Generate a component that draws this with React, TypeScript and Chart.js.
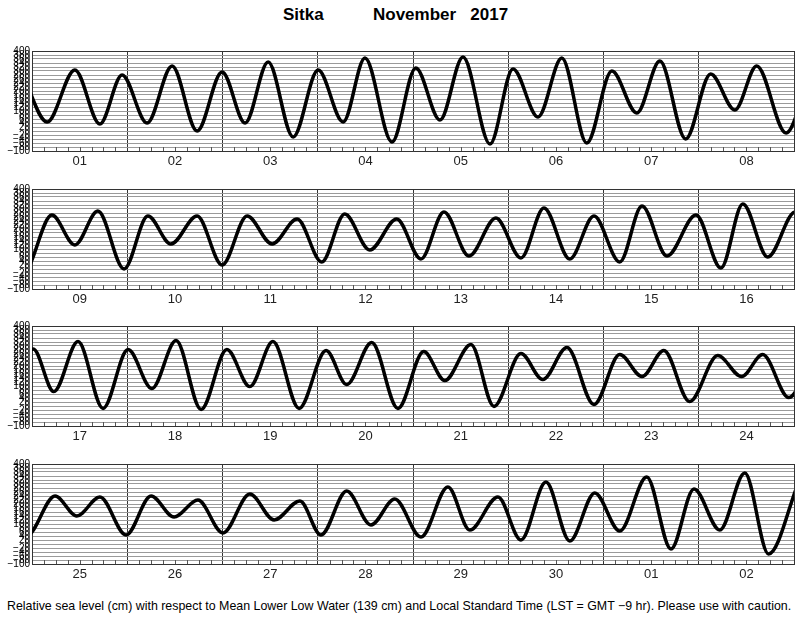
import React, { useEffect, useRef } from 'react';
import { Chart, registerables } from 'chart.js';

Chart.register(...registerables);

// High / low water times (hours after 1 Nov 00:00 LST) and heights (cm)
const tideHours = [
  -2.5, 3.8, 10.8, 17.1, 22.7, 29.0, 35.3, 41.6, 47.9, 53.7, 59.5, 65.8, 72.1, 78.4, 83.9, 90.7,
  96.7, 102.8, 108.6, 115.4, 121.2, 127.5, 133.5, 139.8, 146.1, 152.4, 158.2, 164.7, 171.0, 177.1,
  182.6, 190.0,
  197.0, 202.8, 208.6, 215.2, 221.2, 227.0, 233.6, 239.9, 246.2, 252.5, 258.8, 265.0, 270.8, 277.1,
  283.9, 290.0, 295.8, 302.1, 308.9, 315.2, 321.0, 327.5, 333.6, 340.1, 345.7, 352.0, 359.3, 365.6,
  371.1, 377.4,
  384.3, 389.5, 395.6, 401.9, 408.2, 414.2, 420.3, 426.6, 433.1, 438.9, 444.7, 451.3, 458.1, 463.3,
  469.6, 476.2, 482.7, 488.0, 494.6, 500.4, 507.2, 512.7, 518.8, 525.6, 532.1, 537.7, 543.2, 549.7,
  556.8, 562.8, 568.1, 574.7,
  581.8, 587.3, 593.1, 599.7, 606.0, 611.8, 617.8, 624.1, 630.9, 637.0, 643.5, 648.8, 655.3, 661.4,
  667.4, 674.0, 680.8, 686.3, 693.4, 699.2, 705.5, 711.5, 717.8, 724.1, 730.9, 737.0, 742.8, 749.3,
  755.6, 761.6, 769.0,
];
const tideHeights = [
  290, 45, 305, 35, 280, 40, 325, 0, 295, 40, 345, -30, 305, 45, 365, -55,
  315, 55, 370, -65, 310, 70, 365, -60, 300, 90, 350, -40, 285, 105,
  325, -10,
  270, 120, 290, 0, 265, 125, 265, 20, 265, 125, 250, 35, 275, 95,
  250, 50, 285, 65, 255, 55, 305, 50, 265, 35, 315, 65, 270, 5,
  325, 60,
  285, 72, 322, -12, 282, 87, 327, -17, 282, 97, 322, -12, 277, 107,
  317, -12, 272, 127, 307, -2, 262, 132, 292, 7, 257, 147, 277, 22,
  252, 147, 257, 42,
  240, 140, 235, 45, 240, 135, 220, 55, 250, 120, 215, 45, 265, 95,
  225, 35, 285, 70, 235, 20, 310, 15, 255, 65, 335, -25, 275, 70,
  355, -50, 300,
];
const dayLabels = [
  '01', '02', '03', '04', '05', '06', '07', '08',
  '09', '10', '11', '12', '13', '14', '15', '16',
  '17', '18', '19', '20', '21', '22', '23', '24',
  '25', '26', '27', '28', '29', '30', '01', '02',
];
const panelTops = [51, 189, 326, 464];

const Y_MIN = -100;
const Y_MAX = 400;
const Y_STEP = 20;
const DAYS_PER_PANEL = 8;
const FONT = '"Liberation Sans", Arial, Helvetica, sans-serif';

function Panel({ index, top }: { index: number; top: number }) {
  const ref = useRef<HTMLCanvasElement | null>(null);
  useEffect(() => {
    if (!ref.current) return;
    const start = index * DAYS_PER_PANEL * 24;
    const span = DAYS_PER_PANEL * 24;
    const points = tideHours.map((h, i) => ({ x: h, y: tideHeights[i] }));
    const innerTicks = {
      id: 'innerTicks',
      beforeDatasetsDraw(chart: any) {
        const xs = chart.scales.x;
        const area = chart.chartArea;
        const ctx = chart.ctx;
        ctx.save();
        ctx.strokeStyle = '#555';
        ctx.lineWidth = 1;
        ctx.beginPath();
        for (let h = 3; h < span; h += 3) {
          if (h % 24 === 0) continue;
          const px = Math.round(xs.getPixelForValue(start + h)) + 0.5;
          ctx.moveTo(px, area.bottom);
          ctx.lineTo(px, area.bottom - 4);
        }
        ctx.stroke();
        ctx.restore();
      },
    };
    const chart = new Chart(ref.current, {
      type: 'line',
      data: {
        datasets: [
          {
            data: points,
            borderColor: '#000',
            borderWidth: 3.5,
            pointRadius: 0,
            cubicInterpolationMode: 'monotone',
            fill: false,
            clip: 0,
          } as any,
        ],
      },
      options: {
        animation: false,
        responsive: false,
        devicePixelRatio: 1,
        layout: { padding: { top: 8, right: 6, left: 0, bottom: 0 } },
        plugins: { legend: { display: false }, tooltip: { enabled: false } },
        scales: {
          x: {
            type: 'linear',
            min: start,
            max: start + span,
            afterBuildTicks: (s: any) => {
              const t: any[] = [];
              for (let h = 0; h <= span; h += 3) t.push({ value: start + h });
              s.ticks = t;
            },
            afterFit: (s: any) => {
              s.height = 22;
            },
            grid: {
              color: (c: any) =>
                c.tick && (c.tick.value - start) % 24 === 0 ? '#333' : 'rgba(0,0,0,0)',
              lineWidth: 1,
              drawTicks: false,
            },
            border: { display: true, color: '#333' },
            ticks: {
              autoSkip: false,
              maxRotation: 0,
              padding: 3,
              color: '#222',
              font: { size: 13, family: FONT },
              callback: (v: any) => {
                const h = Number(v) - start;
                if (h % 24 === 12) return dayLabels[index * DAYS_PER_PANEL + Math.floor(h / 24)];
                return '';
              },
            },
          },
          y: {
            min: Y_MIN,
            max: Y_MAX,
            afterFit: (s: any) => {
              s.width = 32;
            },
            ticks: {
              stepSize: Y_STEP,
              autoSkip: false,
              padding: 2,
              color: '#000',
              font: { size: 10, family: FONT },
              callback: (v: any) => (Number(v) < 0 ? '\u2212' + Math.abs(Number(v)) : String(v)),
            },
            grid: {
              color: (c: any) =>
                c.tick && (c.tick.value === Y_MAX || c.tick.value === Y_MIN) ? '#333' : '#9a9a9a',
              lineWidth: 1,
              drawTicks: false,
            },
            border: { display: true, color: '#333' },
          },
        },
      } as any,
      plugins: [innerTicks],
    });
    return () => chart.destroy();
  }, [index]);
  return (
    <canvas
      ref={ref}
      width={800}
      height={130}
      style={{ position: 'absolute', left: 0, top: top - 8, width: 800, height: 130 }}
    />
  );
}

export default function App() {
  return (
    <div
      style={{
        position: 'absolute',
        left: 0,
        top: 0,
        width: 800,
        height: 618,
        background: '#fff',
        fontFamily: FONT,
        color: '#000',
      }}
    >
      <span
        style={{ position: 'absolute', left: 283, top: 6, fontSize: 17, lineHeight: '17px', fontWeight: 'bold' }}
      >
        Sitka
      </span>
      <span
        style={{
          position: 'absolute',
          left: 373,
          top: 6,
          fontSize: 17,
          lineHeight: '17px',
          fontWeight: 'bold',
          whiteSpace: 'pre',
        }}
      >
        {'November   2017'}
      </span>
      {panelTops.map((t, i) => (
        <Panel key={i} index={i} top={t} />
      ))}
      <div
        style={{
          position: 'absolute',
          left: 7,
          top: 599,
          fontSize: 12.4,
          lineHeight: '14px',
          whiteSpace: 'nowrap',
        }}
      >
        Relative sea level (cm) with respect to Mean Lower Low Water (139 cm) and Local Standard Time (LST = GMT {'\u2212'}9 hr). Please use with caution.
      </div>
    </div>
  );
}
